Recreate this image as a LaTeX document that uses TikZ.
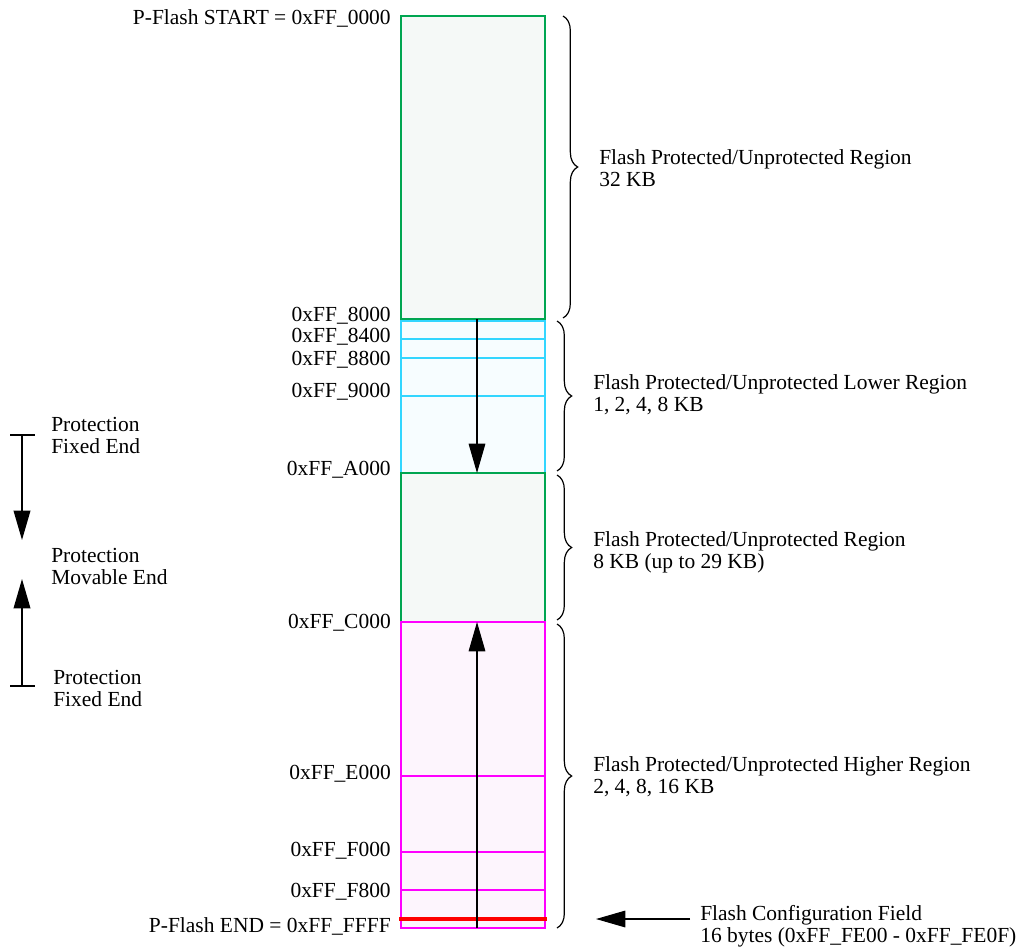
\documentclass[tikz,border=0pt]{standalone}
\usepackage{fontspec}
\setmainfont{Liberation Serif}
\usetikzlibrary{arrows.meta,decorations.pathreplacing}
\definecolor{grn}{RGB}{0,166,81}
\definecolor{cyn}{RGB}{51,214,255}
\definecolor{mag}{RGB}{255,0,255}
\definecolor{grnfill}{RGB}{245,249,247}
\definecolor{cynfill}{RGB}{247,253,255}
\definecolor{magfill}{RGB}{253,245,253}
\tikzset{
  lbl/.style={inner sep=0pt, font=\fontsize{16.1pt}{16.5pt}\selectfont},
  addr/.style={lbl, anchor=base east},
  note/.style={lbl, anchor=base west, align=left},
  region/.style={line width=1.3pt},
  sub/.style={line width=1.1pt},
  brc/.style={decorate, decoration={brace, amplitude=11pt}, line width=0.9pt},
  bigarrow/.style={line width=0.8pt, -{Triangle[length=22pt,width=12.5pt]}},
}
\begin{document}
\begin{tikzpicture}[x=0.75pt,y=-0.75pt]
\useasboundingbox (0,0) rectangle (1019,949);
% region fills and outlines
\draw[region, cyn, fill=cynfill] (401,321) rectangle (545,473);
\draw[sub, cyn] (401,339) -- (545,339);
\draw[sub, cyn] (401,358) -- (545,358);
\draw[sub, cyn] (401,396) -- (545,396);
\draw[region, grn, fill=grnfill] (401,16) rectangle (545,319);
\draw[region, grn, fill=grnfill] (401,473) rectangle (545,622);
\draw[region, mag, fill=magfill] (401,622) rectangle (545,928);
\draw[sub, mag] (401,776) -- (545,776);
\draw[sub, mag] (401,852) -- (545,852);
\draw[sub, mag] (401,890) -- (545,890);
\draw[line width=2.5pt, red] (399,919) -- (547,919);

% arrows inside
\coordinate (d0) at (477,319);
\coordinate (d1) at (477,473);
\coordinate (u0) at (477,928);
\coordinate (u1) at (477,622);
\draw[bigarrow] (d0) -- (d1);
\draw[bigarrow] (u0) -- (u1);

% address labels
\node[addr] (start) at (391,25) {P-Flash START = 0xFF\_0000};
\node[addr] (a8000) at (391,321) {0xFF\_8000};
\node[addr] (a8400) at (391,342) {0xFF\_8400};
\node[addr] (a8800) at (391,365) {0xFF\_8800};
\node[addr] (a9000) at (391,397) {0xFF\_9000};
\node[addr] (aA000) at (391,475) {0xFF\_A000};
\node[addr] (aC000) at (391,628) {0xFF\_C000};
\node[addr] (aE000) at (391,779) {0xFF\_E000};
\node[addr] (aF000) at (391,856) {0xFF\_F000};
\node[addr] (aF800) at (391,897) {0xFF\_F800};
\node[addr] (pend) at (391,932) {P-Flash END = 0xFF\_FFFF};

% braces
\draw[brc] (563,16) -- (563,318);
\draw[brc] (557,321) -- (557,471);
\draw[brc] (557,475) -- (557,620);
\draw[brc] (557,624) -- (557,928);

% (anchor base = baseline of the last line)
\node[note] (r1) at (599,186) {Flash Protected/Unprotected Region\\32 KB};
\node[note] (r2) at (593,411) {Flash Protected/Unprotected Lower Region\\1, 2, 4, 8 KB};
\node[note] (r3) at (593,568) {Flash Protected/Unprotected Region\\8 KB (up to 29 KB)};
\node[note] (r4) at (593,793) {Flash Protected/Unprotected Higher Region\\2, 4, 8, 16 KB};

% configuration field
\node[note] (cfg) at (700,942) {Flash Configuration Field\\16 bytes (0xFF\_FE00 - 0xFF\_FE0F)};
\coordinate (cfgs) at (690,919);
\coordinate (cfge) at (596,919);
\draw[bigarrow] (cfgs) -- (cfge);

% legend
\node[note] (p1) at (51,453) {Protection\\Fixed End};
\node[note] (p2) at (51,584) {Protection\\Movable End};
\node[note] (p3) at (53,706) {Protection\\Fixed End};
\coordinate (lt) at (22,435);
\coordinate (lb) at (22,686);
\coordinate (ld) at (22,540);
\coordinate (lu) at (22,579);
\draw[line width=1.1pt] (10,435) -- (35,435);
\draw[line width=1.1pt] (10,686) -- (35,686);
\draw[bigarrow, line width=1.1pt] (lt) -- (ld);
\draw[bigarrow, line width=1.1pt] (lb) -- (lu);
\end{tikzpicture}
\end{document}
